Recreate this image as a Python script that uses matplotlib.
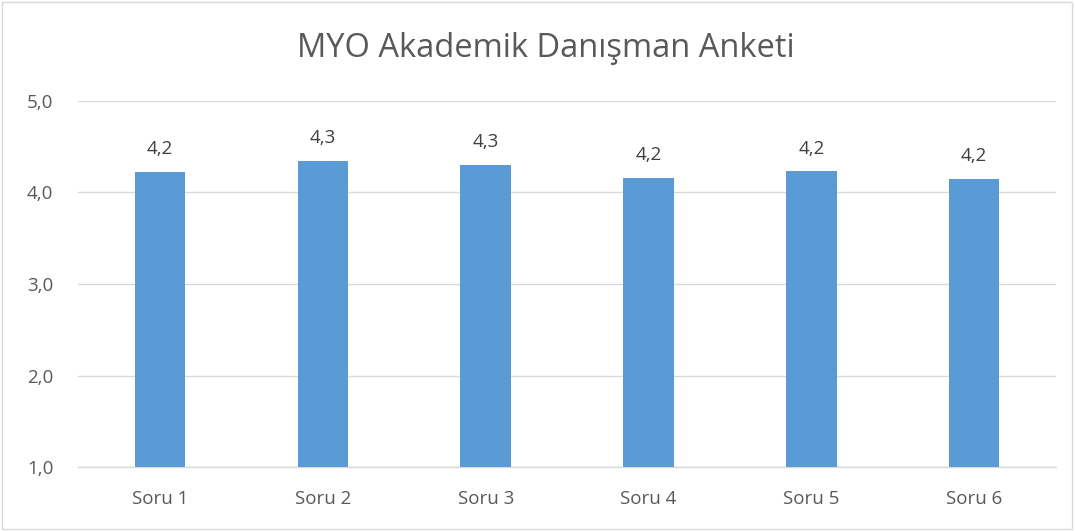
#!/usr/bin/env python3

import matplotlib

matplotlib.use("Agg")

import matplotlib.pyplot as plt
from matplotlib.patches import Rectangle
from matplotlib.ticker import FuncFormatter


OUTPUT_PNG = "out.png"

TITLE = "MYO Akademik Danışman Anketi"

QUESTIONS = [
    "Soru 1",
    "Soru 2",
    "Soru 3",
    "Soru 4",
    "Soru 5",
    "Soru 6",
]

SCORES = [4.22, 4.34, 4.30, 4.16, 4.23, 4.15]

Y_TICKS = [1.0, 2.0, 3.0, 4.0, 5.0]

BAR_COLOR = "#5B9BD5"
TEXT_COLOR = "#595959"
GRID_COLOR = "#D9D9D9"


def comma(value: float) -> str:
    return f"{value:.1f}".replace(".", ",")


def create_plot() -> None:
    plt.rcParams["font.family"] = ["Open Sans", "DejaVu Sans"]

    figure = plt.figure(figsize=(10.75, 5.31), dpi=100)

    axis = figure.add_axes([0.073, 0.12, 0.909, 0.69])

    x_positions = list(range(len(QUESTIONS)))

    bars = axis.bar(
        x_positions,
        [value - Y_TICKS[0] for value in SCORES],
        bottom=Y_TICKS[0],
        width=0.31,
        color=BAR_COLOR,
        zorder=3,
    )

    for bar, value in zip(bars, SCORES):
        axis.annotate(
            comma(value),
            (bar.get_x() + bar.get_width() / 2, value),
            xytext=(0, 10),
            textcoords="offset points",
            ha="center",
            va="bottom",
            fontsize=13.5,
            color="#404040",
        )

    axis.set_xlim(-0.5, len(QUESTIONS) - 0.5)
    axis.set_ylim(Y_TICKS[0], Y_TICKS[-1])

    axis.set_xticks(x_positions)
    axis.set_xticklabels(QUESTIONS, fontsize=13.5, color=TEXT_COLOR)

    axis.set_yticks(Y_TICKS)
    axis.yaxis.set_major_formatter(
        FuncFormatter(lambda value, position: comma(value))
    )
    axis.tick_params(axis="y", labelsize=13.5, labelcolor=TEXT_COLOR, length=0, pad=18)
    axis.tick_params(axis="x", length=0, pad=16)

    axis.grid(axis="y", color=GRID_COLOR, linewidth=1, zorder=0)

    for side in ["top", "right", "left"]:
        axis.spines[side].set_visible(False)

    axis.spines["bottom"].set_color(GRID_COLOR)
    axis.spines["bottom"].set_linewidth(1)

    figure.text(
        0.508,
        0.908,
        TITLE,
        ha="center",
        va="center",
        fontsize=23.5,
        color=TEXT_COLOR,
    )

    figure.patches.append(
        Rectangle(
            (0.002, 0.003),
            0.995,
            0.993,
            transform=figure.transFigure,
            fill=False,
            edgecolor=GRID_COLOR,
            linewidth=1,
        )
    )

    figure.savefig(OUTPUT_PNG, dpi=100)
    plt.close(figure)


def main() -> None:
    create_plot()


if __name__ == "__main__":
    main()
